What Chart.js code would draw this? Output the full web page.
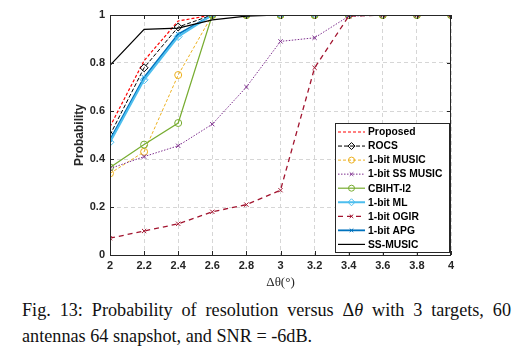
<!DOCTYPE html>
<html>
<head>
<meta charset="utf-8">
<script src="https://cdn.jsdelivr.net/npm/chart.js@4/dist/chart.umd.min.js"></script>
<style>
  body { margin: 0; background: #fff; width: 514px; height: 352px; position: relative; overflow: hidden; }
  #wrap { position: absolute; left: 0; top: 0; width: 514px; height: 292px; }
  #caption {
    position: absolute; left: 22px; top: 297px; width: 489px;
    font-family: "Liberation Serif", "DejaVu Serif", serif; font-size: 18.2px; line-height: 26px;
    text-align: justify; color: #111;
  }
</style>
</head>
<body>
<div id="wrap"><canvas id="chart" width="514" height="292"></canvas></div>
<div id="caption">Fig. 13: Probability of resolution versus &Delta;<i>&theta;</i> with 3 targets, 60 antennas 64 snapshot, and SNR = -6dB.</div>
<script>
// значения
const dTheta = [2, 2.2, 2.4, 2.6, 2.8, 3, 3.2, 3.4, 3.6, 3.8, 4];
const seriesNames = ['Proposed', 'ROCS', '1-bit MUSIC', '1-bit SS MUSIC', 'CBIHT-l2', '1-bit ML', '1-bit OGIR', '1-bit APG', 'SS-MUSIC'];

const proposed  = [0.535, 0.81, 0.975, 1, 1, 1, 1, 1, 1, 1, 1];
const rocs      = [0.50, 0.78, 0.95, 1, 1, 1, 1, 1, 1, 1, 1];
const music1    = [0.34, 0.43, 0.75, 1, 1, 1, 1, 1, 1, 1, 1];
const ssMusic1  = [0.36, 0.41, 0.455, 0.545, 0.70, 0.89, 0.905, 0.995, 1, 1, 1];
const cbiht     = [0.365, 0.46, 0.55, 1, 1, 1, 1, 1, 1, 1, 1];
const ml1       = [0.47, 0.73, 0.91, 1, 1, 1, 1, 1, 1, 1, 1];
const ogir1     = [0.07, 0.10, 0.13, 0.18, 0.21, 0.27, 0.78, 0.995, 1, 1, 1];
const apg1      = [0.48, 0.74, 0.92, 1, 1, 1, 1, 1, 1, 1, 1];
const ssMusic   = [0.79, 0.94, 0.945, 0.98, 0.995, 1, 1, 1, 1, 1, 1];

function pts(vals) {
    return vals.map((v, i) => ({ x: dTheta[i], y: v }));
}

function ds(label, vals, color, opts) {
    return Object.assign({
        label: label,
        data: pts(vals),
        borderColor: color,
        backgroundColor: 'rgba(0,0,0,0)',
        pointBorderColor: color,
        pointBackgroundColor: 'rgba(0,0,0,0)',
        borderWidth: 1,
        pointRadius: 0,
        pointBorderWidth: 1,
        tension: 0,
        fill: false
    }, opts);
}

const datasets = [
    ds(seriesNames[8], ssMusic, '#000000', { borderWidth: 1.2 }),
    ds(seriesNames[6], ogir1, '#A2142F', { borderDash: [5, 4], borderWidth: 1.3, pointStyle: 'crossRot', pointRadius: 3 }),
    ds(seriesNames[3], ssMusic1, '#7E2F8E', { borderDash: [1.5, 1.5], pointStyle: 'crossRot', pointRadius: 3 }),
    ds(seriesNames[4], cbiht, '#77AC30', { borderWidth: 1.2, pointStyle: 'circle', pointRadius: 3.5 }),
    ds(seriesNames[2], music1, '#EDB120', { borderDash: [3, 2], pointStyle: 'circle', pointRadius: 3.5 }),
    ds(seriesNames[5], ml1, '#4DBEEE', { borderWidth: 2, pointStyle: 'rectRot', pointRadius: 4 }),
    ds(seriesNames[7], apg1, '#0072BD', { borderWidth: 1.8, pointStyle: 'crossRot', pointRadius: 3 }),
    ds(seriesNames[1], rocs, '#000000', { borderDash: [4, 2], pointStyle: 'rectRot', pointRadius: 4 }),
    ds(seriesNames[0], proposed, '#FF0000', { borderDash: [3, 2], borderWidth: 1.2 })
];

const fmt = v => String(Math.round(v * 10) / 10);

// рамка и внутренние засечки как в MATLAB
const boxPlugin = {
    id: 'box',
    afterDatasetsDraw(chart) {
        const { ctx, chartArea: a, scales } = chart;
        ctx.save();
        ctx.strokeStyle = '#262626';
        ctx.lineWidth = 1;
        ctx.setLineDash([]);
        ctx.strokeRect(a.left + 0.5, a.top + 0.5, a.right - a.left - 1, a.bottom - a.top);
        ctx.beginPath();
        scales.x.ticks.forEach(t => {
            const px = Math.round(scales.x.getPixelForValue(t.value)) + 0.5;
            ctx.moveTo(px, a.bottom); ctx.lineTo(px, a.bottom - 4);
            ctx.moveTo(px, a.top); ctx.lineTo(px, a.top + 4);
        });
        scales.y.ticks.forEach(t => {
            const py = Math.round(scales.y.getPixelForValue(t.value)) + 0.5;
            ctx.moveTo(a.left, py); ctx.lineTo(a.left + 4, py);
            ctx.moveTo(a.right, py); ctx.lineTo(a.right - 4, py);
        });
        ctx.stroke();
        ctx.restore();
    }
};

// легенда внутри области графика
const legendPlugin = {
    id: 'innerLegend',
    afterDraw(chart) {
        const { ctx, chartArea: a } = chart;
        const order = seriesNames.map(n => chart.data.datasets.find(d => d.label === n));
        const x0 = a.right - 116, y0 = a.top + 108, w = 114, h = 129, step = 14.05;
        ctx.save();
        ctx.fillStyle = '#fff';
        ctx.fillRect(x0, y0, w, h);
        ctx.strokeStyle = '#262626';
        ctx.lineWidth = 1;
        ctx.strokeRect(x0 + 0.5, y0 + 0.5, w, h);
        ctx.font = 'bold 10.3px "Liberation Sans", Arial, sans-serif';
        ctx.textBaseline = 'middle';
        order.forEach((d, i) => {
            const y = y0 + 9 + i * step;
            ctx.strokeStyle = d.borderColor;
            ctx.lineWidth = d.borderWidth;
            ctx.setLineDash(d.borderDash || []);
            ctx.beginPath();
            ctx.moveTo(x0 + 3, y); ctx.lineTo(x0 + 30, y);
            ctx.stroke();
            ctx.setLineDash([]);
            if (d.pointRadius > 0) {
                ctx.lineWidth = 1;
                ctx.strokeStyle = d.pointBorderColor;
                ctx.fillStyle = 'rgba(0,0,0,0)';
                Chart.helpers.drawPoint(ctx, { pointStyle: d.pointStyle, radius: d.pointRadius - 0.5, rotation: 0, borderWidth: 1 }, x0 + 16.5, y);
            }
            ctx.fillStyle = '#000';
            ctx.fillText(d.label, x0 + 33, y + 0.5);
        });
        ctx.restore();
    }
};

const tickFont = { family: '"Liberation Sans", Arial, sans-serif', size: 11, weight: 'bold' };

new Chart(document.getElementById('chart').getContext('2d'), {
    type: 'line',
    data: { datasets: datasets },
    options: {
        responsive: false,
        animation: false,
        layout: { padding: { left: 72, right: 63, top: 15, bottom: 0 } },
        plugins: { legend: { display: false }, tooltip: { enabled: false } },
        scales: {
            x: {
                type: 'linear', min: 2, max: 4,
                afterFit: s => { s.height = 37; },
                ticks: { stepSize: 0.2, callback: fmt, font: tickFont, color: '#262626', padding: 4, maxRotation: 0, autoSkip: false },
                grid: { color: '#d6d6d6', lineWidth: 1, drawTicks: false, tickLength: 0 },
                border: { display: false, dash: [4, 3] },
                title: { display: true, text: 'Δθ(°)', font: { family: '"Liberation Serif", serif', size: 13 }, color: '#262626', padding: { top: 0, bottom: 2 } }
            },
            y: {
                min: 0, max: 1,
                afterFit: s => { s.width = 38; },
                ticks: { stepSize: 0.2, callback: fmt, font: tickFont, color: '#262626', padding: 5 },
                grid: { color: '#d6d6d6', lineWidth: 1, drawTicks: false, tickLength: 0 },
                border: { display: false, dash: [4, 3] },
                title: { display: true, text: 'Probability', font: { family: '"Liberation Sans", Arial, sans-serif', size: 12, weight: 'bold' }, color: '#262626', padding: { top: 0, bottom: 4 } }
            }
        }
    },
    plugins: [boxPlugin, legendPlugin]
});
</script>
</body>
</html>
